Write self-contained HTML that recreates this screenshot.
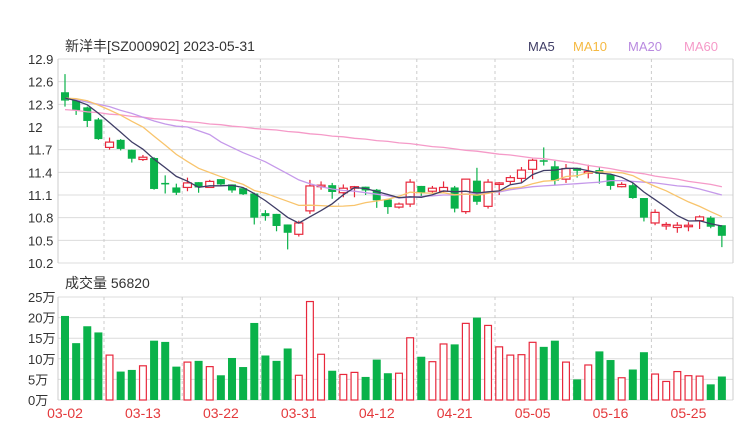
<!DOCTYPE html>
<html><head><meta charset="utf-8"><style>
body{margin:0;background:#fff;}
svg{display:block;font-family:"Liberation Sans","Noto Sans CJK SC",sans-serif;}
</style></head><body>
<svg id="chart" width="740" height="440" viewBox="0 0 740 440" xmlns="http://www.w3.org/2000/svg">
<text x="65" y="51" font-size="14" fill="#333">新洋丰[SZ000902] 2023-05-31</text>
<g font-size="13">
<text x="528" y="51" fill="#3f3d66">MA5</text>
<text x="573" y="51" fill="#f5b942">MA10</text>
<text x="628" y="51" fill="#b98ae0">MA20</text>
<text x="684" y="51" fill="#f59ac8">MA60</text>
</g>
<text x="65" y="288" font-size="14" fill="#333">成交量 56820</text>
<g id="grid"></g><g id="marks"></g>
</svg>
<script>
const opens=[12.46,12.36,12.26,12.10,11.73,11.83,11.70,11.57,11.59,11.26,11.20,11.20,11.27,11.20,11.31,11.24,11.19,11.12,10.86,10.85,10.71,10.58,10.89,11.21,11.23,11.13,11.20,11.21,11.17,11.04,10.94,10.98,11.22,11.15,11.15,11.20,10.88,11.29,10.95,11.25,11.28,11.32,11.44,11.56,11.48,11.31,11.46,11.39,11.43,11.37,11.21,11.23,11.06,10.73,10.69,10.67,10.69,10.76,10.80,10.70];
const closes=[12.35,12.22,12.08,11.84,11.80,11.71,11.58,11.60,11.18,11.24,11.13,11.26,11.20,11.28,11.24,11.16,11.11,10.80,10.82,10.69,10.60,10.73,11.22,11.23,11.14,11.19,11.21,11.16,11.03,10.94,10.98,11.27,11.13,11.19,11.20,10.92,11.31,11.01,11.27,11.26,11.33,11.43,11.56,11.54,11.29,11.45,11.42,11.41,11.38,11.22,11.24,11.06,10.80,10.87,10.71,10.70,10.70,10.81,10.68,10.56];
const highs=[12.70,12.36,12.27,12.12,11.86,11.84,11.70,11.63,11.60,11.36,11.25,11.33,11.27,11.30,11.31,11.24,11.19,11.13,10.90,10.85,10.71,10.76,11.30,11.28,11.26,11.24,11.22,11.21,11.18,11.04,11.00,11.31,11.22,11.22,11.28,11.22,11.31,11.46,11.31,11.27,11.36,11.47,11.58,11.73,11.55,11.51,11.46,11.50,11.47,11.37,11.27,11.26,11.06,10.91,10.74,10.74,10.74,10.83,10.82,10.70];
const lows=[12.27,12.16,12.00,11.83,11.70,11.69,11.53,11.55,11.17,11.12,11.10,11.15,11.13,11.20,11.22,11.13,11.10,10.71,10.76,10.62,10.38,10.55,10.85,11.17,11.05,11.07,11.07,11.10,10.93,10.85,10.92,10.94,11.08,11.13,11.13,10.87,10.85,10.97,10.92,11.10,11.24,11.26,11.31,11.49,11.23,11.26,11.33,11.32,11.25,11.17,11.20,11.05,10.75,10.70,10.64,10.60,10.62,10.65,10.66,10.41];
const volumes=[20.4,13.8,17.9,16.4,10.9,6.9,7.3,8.3,14.4,14.1,8.1,9.2,9.5,8.1,6.0,10.2,8.0,18.7,10.8,9.5,12.5,6.0,23.9,11.1,7.1,6.2,6.7,5.6,9.8,6.5,6.5,15.1,10.5,9.3,13.6,13.5,18.6,20.0,18.1,12.9,10.9,11.0,14.0,12.9,14.4,9.2,5.0,8.5,11.8,9.7,5.4,7.4,11.6,6.3,4.5,6.9,5.9,5.8,3.8,5.7];
const priorCloses=[12.30,12.35,12.42,12.45,12.40,12.38,12.36,12.40,12.42];
const ma20=[12.38,12.36,12.33,12.30,12.27,12.22,12.18,12.13,12.08,12.04,12.01,12.00,11.95,11.90,11.80,11.73,11.66,11.60,11.54,11.46,11.38,11.30,11.25,11.21,11.18,11.16,11.15,11.13,11.11,11.09,11.06,11.07,11.08,11.09,11.10,11.10,11.11,11.12,11.13,11.14,11.17,11.19,11.21,11.22,11.23,11.24,11.25,11.26,11.27,11.29,11.29,11.28,11.27,11.26,11.24,11.22,11.21,11.18,11.14,11.10];
const ma60=[12.23,12.22,12.20,12.19,12.17,12.16,12.14,12.13,12.11,12.10,12.09,12.07,12.06,12.04,12.03,12.01,12.00,11.98,11.97,11.96,11.94,11.93,11.91,11.90,11.88,11.87,11.85,11.84,11.82,11.81,11.79,11.78,11.76,11.74,11.73,11.71,11.69,11.68,11.66,11.64,11.63,11.61,11.59,11.58,11.56,11.54,11.52,11.49,11.47,11.45,11.42,11.40,11.38,11.35,11.33,11.31,11.28,11.26,11.24,11.21];
const priceTicks=[12.9,12.6,12.3,12,11.7,11.4,11.1,10.8,10.5,10.2];
const volTicks=[0,5,10,15,20,25];
const dateLabels=["03-02","03-13","03-22","03-31","04-12","04-21","05-05","05-16","05-25"];
const dateIdx=[0,7,14,21,28,35,42,49,56];

const NS="http://www.w3.org/2000/svg";
const X0=58,X1=733,PT=59,PB=263,VT=297,VB=400;
const pMax=12.9,pMin=10.2,vMax=25;
const n=closes.length, step=(X1-X0-7)/n;
const xc=i=>65+i*step;
const yP=v=>PT+(pMax-v)/(pMax-pMin)*(PB-PT);
const yV=v=>VB-v/vMax*(VB-VT);
const grid=document.getElementById('grid'), marks=document.getElementById('marks');
function mk(tag,attrs,parent){const e=document.createElementNS(NS,tag);for(const k in attrs)e.setAttribute(k,attrs[k]);parent.appendChild(e);return e;}

// price grid
priceTicks.forEach(t=>{
  const l=mk('line',{x1:X0,x2:X1,y1:yP(t),y2:yP(t),stroke:'#dcdcdc','stroke-width':1},grid);
  
  
  const tx=mk('text',{x:28,y:yP(t)+5,'font-size':13,fill:'#333'},grid);
  tx.textContent=String(t);
  
  
});
volTicks.forEach(t=>{
  const l=mk('line',{x1:X0,x2:X1,y1:yV(t),y2:yV(t),stroke:'#dcdcdc','stroke-width':1},grid);
  
  
  const tx=mk('text',{x:28,y:yV(t)+5,'font-size':13,fill:'#333'},grid);
  tx.textContent=t+'万';
  
  
});
// vertical dashed
for(let k=0;k<8;k++){
  const x=104+k*78.2;
  const a=mk('line',{x1:x,x2:x,y1:PT,y2:PB,stroke:'#ccc','stroke-dasharray':'3,3'},grid);
  
  
  const b=mk('line',{x1:x,x2:x,y1:VT,y2:VB,stroke:'#ccc','stroke-dasharray':'3,3'},grid);
  
  
}
[[PT,PB],[VT,VB]].forEach(([a,b])=>{
  const l=mk('line',{x1:X0,x2:X0,y1:a,y2:b,stroke:'#ccc'},grid);
  
  
  const r=mk('line',{x1:X1,x2:X1,y1:a,y2:b,stroke:'#ccc'},grid);
  
  
});
// date labels
dateLabels.forEach((d,k)=>{
  const t=mk('text',{x:xc(dateIdx[k]),y:418,'font-size':14,fill:'#e4393c','text-anchor':'middle'},grid);
  t.textContent=d;
  
  
});
const RED='#e8283c',GREEN='#0ab24a',W=8;
// candles and volumes
for(let i=0;i<n;i++){
  const up=closes[i]>=opens[i], col=up?RED:GREEN, x=xc(i);
  const w=mk('line',{x1:x,x2:x,y1:yP(highs[i]),y2:yP(lows[i]),stroke:col,'stroke-width':1.2},marks);
  
  
  const top=yP(Math.max(opens[i],closes[i])), h=Math.max(1.5,Math.abs(yP(opens[i])-yP(closes[i])));
  const b=mk('rect',{x:x-W/2,y:top,width:W,height:h,fill:up?'#fff':col,stroke:col,'stroke-width':up?1.2:0},marks);
  
  
  const vy=yV(volumes[i]);
  const v=mk('rect',{x:x-W/2+(up?0.6:0),y:vy,width:W-(up?1.2:0),height:VB-vy,fill:up?'#fff':col,stroke:col,'stroke-width':up?1.2:0},marks);
  
  
}
function ma(p){const all=priorCloses.concat(closes),o=priorCloses.length,r=[];for(let i=0;i<n;i++){let s=0,c=0;for(let j=o+i;j>o+i-p&&j>=0;j--){s+=all[j];c++;}r.push(s/c);}return r;}
function line(vals,col,name){
  const d=vals.map((v,i)=>(i?'L':'M')+xc(i).toFixed(1)+','+yP(v).toFixed(1)).join(' ');
  const p=mk('path',{d:d,fill:'none',stroke:col,'stroke-width':1.3},marks);
  
  
}
line(ma60,'#f59ac8','ma60-line');
line(ma20,'#c599ea','ma20-line');
line(ma(10),'#f8c46c','ma10-line');
line(ma(5),'#3f3d66','ma5-line');
</script>
</body></html>
